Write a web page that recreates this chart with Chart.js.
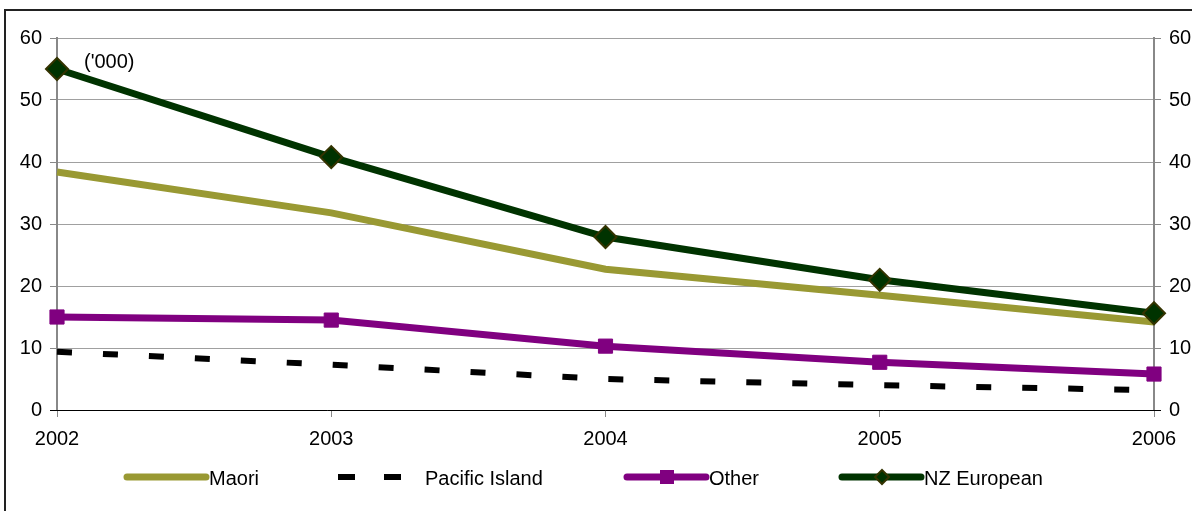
<!DOCTYPE html>
<html>
<head>
<meta charset="utf-8">
<script src="https://cdn.jsdelivr.net/npm/chart.js@4"></script>
<style>
  html, body { margin: 0; padding: 0; background: #fff; }
  #wrap { position: relative; width: 1192px; height: 511px; }
  #frame { position: absolute; left: 4px; top: 9px; right: -10px; bottom: -10px; border-left: 2px solid #222; border-top: 2px solid #222; pointer-events: none; }
  canvas { position: absolute; left: 0; top: 0; }
</style>
</head>
<body>
<div id="wrap">
  <canvas id="c" width="1192" height="511"></canvas>
  <div id="frame"></div>
</div>
<script>
const years = ['2002', '2003', '2004', '2005', '2006'];
const maori = [38.4, 31.8, 22.7, 18.5, 14.2];
const pacificIsland = [9.4, 7.3, 5.0, 4.0, 3.2];
const other = [15.0, 14.5, 10.3, 7.7, 5.8];
const nzEuropean = [55.0, 40.8, 27.9, 21.0, 15.6];
const yTicks = [0, 10, 20, 30, 40, 50, 60];
const unitNote = "('000)";

const FONT = 'Liberation Sans, Arial, sans-serif';
const FS = 20;

const legendPlugin = {
  id: 'customLegend',
  afterDraw(chart) {
    const ctx = chart.ctx;
    const items = [
      { idx: 0, x0: 127, x1: 206, tx: 209 },
      { idx: 1, x0: 338, x1: 404, tx: 425 },
      { idx: 2, x0: 627, x1: 706, tx: 709 },
      { idx: 3, x0: 842, x1: 921, tx: 924 }
    ];
    const y = 477;
    ctx.save();
    items.forEach(it => {
      const ds = chart.data.datasets[it.idx];
      ctx.strokeStyle = ds.borderColor;
      ctx.lineWidth = ds.borderWidth;
      ctx.lineCap = ds.borderDash ? 'butt' : 'round';
      ctx.setLineDash(ds.borderDash ? [17, 29] : []);
      ctx.beginPath();
      ctx.moveTo(it.x0, y);
      ctx.lineTo(it.x1, y);
      ctx.stroke();
      ctx.setLineDash([]);
      const mx = (it.x0 + it.x1) / 2 + 0.5;
      if (ds.pointStyle === 'rectRot') {
        ctx.fillStyle = ds.pointBackgroundColor;
        ctx.strokeStyle = ds.pointBorderColor;
        ctx.lineWidth = 2;
        ctx.beginPath();
        ctx.moveTo(mx, y - 7); ctx.lineTo(mx + 7, y); ctx.lineTo(mx, y + 7); ctx.lineTo(mx - 7, y); ctx.closePath();
        ctx.fill(); ctx.stroke();
      } else if (ds.pointStyle === 'rect') {
        ctx.fillStyle = ds.pointBackgroundColor;
        ctx.fillRect(mx - 7, y - 7, 14, 14);
      }
      ctx.fillStyle = '#000';
      ctx.font = FS + 'px ' + FONT;
      ctx.textBaseline = 'middle';
      ctx.textAlign = 'left';
      ctx.fillText(ds.label, it.tx, y + 2);
    });
    ctx.font = FS + 'px ' + FONT;
    ctx.textAlign = 'left';
    ctx.textBaseline = 'middle';
    ctx.fillStyle = '#000';
    ctx.fillText(unitNote, 84, 62);
    ctx.restore();
  }
};

const zeroLinePlugin = {
  id: 'zeroLine',
  beforeDatasetsDraw(chart) {
    const { ctx, chartArea, scales } = chart;
    const y0 = scales.y.getPixelForValue(0);
    ctx.save();
    ctx.strokeStyle = '#000';
    ctx.lineWidth = 1;
    ctx.beginPath();
    ctx.moveTo(scales.y.left + scales.y.width - 7, y0 + 0.5);
    ctx.lineTo(chartArea.right + 7, y0 + 0.5);
    ctx.stroke();
    ctx.restore();
  }
};

new Chart(document.getElementById('c'), {
  type: 'line',
  data: {
    labels: years,
    datasets: [
      { label: 'Maori', data: maori, borderColor: '#999933', backgroundColor: '#999933', borderWidth: 7, pointRadius: 0, pointStyle: false, tension: 0, order: 3 },
      { label: 'Pacific Island', data: pacificIsland, borderColor: '#000000', backgroundColor: '#000', borderWidth: 6, borderDash: [15, 31], borderCapStyle: 'butt', pointRadius: 0, pointStyle: false, tension: 0, order: 4 },
      { label: 'Other', data: other, borderColor: '#800080', backgroundColor: '#800080', borderWidth: 7, pointStyle: 'rect', pointRadius: 10, pointBackgroundColor: '#800080', pointBorderColor: '#800080', pointBorderWidth: 1, tension: 0, order: 2 },
      { label: 'NZ European', data: nzEuropean, borderColor: '#003300', backgroundColor: '#003300', borderWidth: 7, pointStyle: 'rectRot', pointRadius: 11, pointBackgroundColor: '#003300', pointBorderColor: '#333300', pointBorderWidth: 2, tension: 0, order: 1 }
    ]
  },
  options: {
    responsive: false,
    animation: false,
    devicePixelRatio: 1,
    layout: { padding: { top: 38, bottom: 0, left: 0, right: 0 } },
    plugins: { legend: { display: false }, tooltip: { enabled: false } },
    scales: {
      x: {
        offset: false,
        grid: { display: true, drawOnChartArea: false, drawTicks: true, tickLength: 7, color: '#888' },
        border: { display: false },
        ticks: { color: '#000', font: { family: FONT, size: FS }, padding: 10, maxRotation: 0, autoSkip: false },
        afterFit(s) { s.height = 101; }
      },
      y: {
        position: 'left',
        min: 0, max: 60,
        afterBuildTicks(s) { s.ticks = yTicks.map(v => ({ value: v })); },
        grid: { color: '#a0a0a0', lineWidth: 1, tickLength: 7, tickColor: '#888' },
        border: { display: true, color: '#888', width: 2 },
        ticks: { color: '#000', font: { family: FONT, size: FS }, padding: 8 },
        afterFit(s) { s.width = 57; }
      },
      y2: {
        position: 'right',
        min: 0, max: 60,
        afterBuildTicks(s) { s.ticks = yTicks.map(v => ({ value: v })); },
        grid: { drawOnChartArea: false, tickLength: 7, tickColor: '#888' },
        border: { display: true, color: '#888', width: 2 },
        ticks: { color: '#000', font: { family: FONT, size: FS }, padding: 8 },
        afterFit(s) { s.width = 38; }
      }
    }
  },
  plugins: [zeroLinePlugin, legendPlugin]
});
</script>
</body>
</html>
